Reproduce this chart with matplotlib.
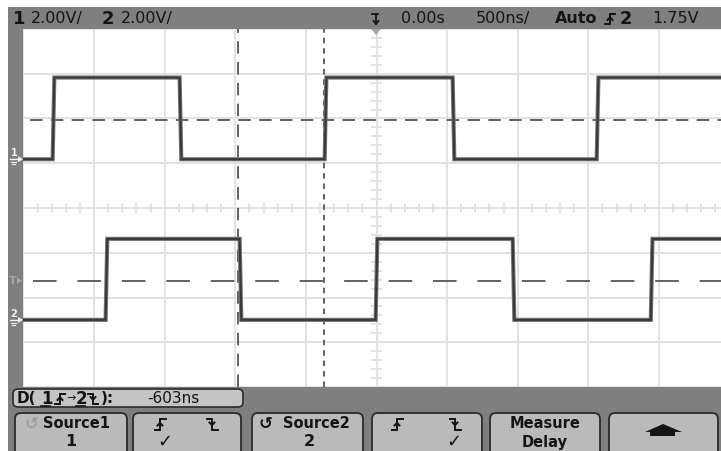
import matplotlib
matplotlib.use('Agg')
import matplotlib.pyplot as plt
import numpy as np
from matplotlib.patches import Rectangle, FancyBboxPatch, Polygon

plt.rcParams['font.family'] = ['DejaVu Sans']
plt.rcParams['lines.scale_dashes'] = False

# scope settings: 500 ns/div (10 div), 2 V/div (8 div)
time_per_div = 0.5      # us
volts_per_div = 2.0

# edge times in us (first edge of each is rising)
ch1_edges = [-2.287, -1.388, -0.361, 0.545, 1.565]
ch2_edges = [-1.912, -0.963, 0.0, 0.970, 1.948]
ch1_levels = (0.0, 3.65)    # V low / high
ch2_levels = (0.0, 3.62)
ch1_offset = 1.09           # div, ground marker position
ch2_offset = -2.50
threshold = 1.75            # V, both channels
cursor_a = -0.984           # us, ch2 falling edge
cursor_b = -0.375           # us, ch1 rising edge
delay_text = '-603ns'

W, H = 721, 451
GRAY = '#7f7f7f'
INK = '#141414'


def trace(edges, levels, offset, rise=0.012):
    lo, hi = levels
    t = [-2.6]
    v = [lo]
    cur = lo
    for e in edges:
        new = hi if cur == lo else lo
        t += [e - rise / 2, e + rise / 2]
        v += [cur, new]
        cur = new
    t.append(2.8)
    v.append(cur)
    return np.array(t), np.array(v) / volts_per_div + offset


fig = plt.figure(figsize=(W / 100, H / 100), dpi=100)
fig.patch.set_facecolor('white')

# graticule (extends a little past the right edge, like the screenshot)
gx0, gx1, gy0, gy1 = 23.4, 729.6, 29, 387
ax = fig.add_axes([gx0 / W, 1 - gy1 / H, (gx1 - gx0) / W, (gy1 - gy0) / H])
ax.set_xlim(-5 * time_per_div, 5 * time_per_div)
ax.set_ylim(-4, 4)
ax.set_facecolor('white')
for s in ax.spines.values():
    s.set_visible(False)
ax.set_xticks([])
ax.set_yticks([])

gc = '#e2e2e2'
for i in range(-5, 6):
    ax.axvline(i * time_per_div, color=gc, lw=1.4, zorder=1)
for j in range(-4, 5):
    ax.axhline(j, color=gc, lw=1.4, zorder=1)
# minor ticks on the centre cross
dx = time_per_div / 5
for k in range(-25, 26):
    ax.plot([k * dx, k * dx], [-0.09, 0.09], color=gc, lw=1.4, zorder=1)
for k in range(-20, 21):
    ax.plot([-0.03, 0.03], [k * 0.2, k * 0.2], color=gc, lw=1.4, zorder=1)

# threshold lines
l1, = ax.plot([-2.45, 2.6], [threshold / volts_per_div + ch1_offset] * 2,
              color='#555555', lw=1.3, zorder=2)
l1.set_dashes([9, 6])
l2, = ax.plot([-2.43, 2.6], [threshold / volts_per_div + ch2_offset] * 2,
              color='#555555', lw=1.3, zorder=2)
l2.set_dashes([17, 15])

# cursors
c1 = ax.axvline(cursor_a, color='#555555', lw=1.3, zorder=2)
c1.set_dashes([9, 6])
c2 = ax.axvline(cursor_b, color='#555555', lw=1.3, zorder=2)
c2.set_dashes([4, 3.5])

# waveforms
for edges, levels, off in [(ch1_edges, ch1_levels, ch1_offset),
                           (ch2_edges, ch2_levels, ch2_offset)]:
    t, y = trace(edges, levels, off)
    ax.plot(t, y, color='#767676', lw=3.0, zorder=3, solid_joinstyle='miter')
    ax.plot(t, y, color='#383838', lw=1.5, zorder=4, solid_joinstyle='miter')

# overlay in pixel coordinates for the scope frame
ov = fig.add_axes([0, 0, 1, 1])
ov.set_zorder(10)
ov.set_xlim(0, W)
ov.set_ylim(H, 0)
ov.axis('off')
ov.patch.set_alpha(0)

ov.add_patch(Rectangle((8, 7), W, 22, color=GRAY, lw=0, zorder=1))
ov.add_patch(Rectangle((8, 7), 15.4, H, color=GRAY, lw=0, zorder=1))
ov.add_patch(Rectangle((8, gy1), W, H, color=GRAY, lw=0, zorder=1))


def edge_glyph(x, y, rising, s=5, color=INK, lw=1.4):
    if rising:
        xs, ys = [x - s, x, x, x + s], [y + s, y + s, y - s, y - s]
        ov.plot([x - 2.5, x, x + 2.5], [y + 1.5, y - 1.2, y + 1.5], color=color, lw=lw, zorder=3)
    else:
        xs, ys = [x - s, x, x, x + s], [y - s, y - s, y + s, y + s]
        ov.plot([x - 2.5, x, x + 2.5], [y - 1.5, y + 1.2, y - 1.5], color=color, lw=lw, zorder=3)
    ov.plot(xs, ys, color=color, lw=lw, solid_joinstyle='miter', zorder=3)


# top status bar
ty = 18.5
fs = 11.5
ov.text(13, ty, '1', fontsize=13, fontweight='bold', color=INK, va='center')
ov.text(31, ty, '2.00V/', fontsize=fs, color=INK, va='center')
ov.text(102, ty, '2', fontsize=13, fontweight='bold', color=INK, va='center')
ov.text(121, ty, '2.00V/', fontsize=fs, color=INK, va='center')
ov.plot([372, 378], [14, 14], color=INK, lw=1.3)
ov.plot([376, 376], [14, 24], color=INK, lw=1.3)
ov.plot([373.5, 376, 378.5], [21, 24, 21], color=INK, lw=1.3)
ov.add_patch(Polygon([[371, 29], [381, 29], [376, 35]], color='#a8a8a8', lw=0))
ov.text(401, ty, '0.00s', fontsize=fs, color=INK, va='center')
ov.text(476, ty, '500ns/', fontsize=fs, color=INK, va='center')
ov.text(555, ty, 'Auto', fontsize=fs, fontweight='bold', color=INK, va='center')
edge_glyph(610, ty, True)
ov.text(620, ty, '2', fontsize=13, fontweight='bold', color=INK, va='center')
ov.text(652, ty, '1.75V', fontsize=fs, color=INK, va='center')


# channel ground markers and trigger level marker on the left strip
def marker(yc, label, color):
    ov.text(14, yc - 6, label, fontsize=7, fontweight='bold', color=color,
            ha='center', va='center')
    ov.plot([10, 18], [yc, yc], color=color, lw=1)
    ov.add_patch(Polygon([[18, yc - 3], [23, yc], [18, yc + 3]], color=color, lw=0))
    ov.plot([11, 16], [yc + 3, yc + 3], color=color, lw=0.8)
    ov.plot([12, 15], [yc + 5, yc + 5], color=color, lw=0.8)


def to_px(div):
    return gy0 + (4 - div) * (gy1 - gy0) / 8


marker(to_px(ch1_offset), '1', '#f0f0f0')
marker(to_px(ch2_offset), '2', '#f0f0f0')
yt = to_px(threshold / volts_per_div + ch2_offset)
ov.text(13, yt, 'T', fontsize=8, fontweight='bold', color='#a6a6a6', ha='center', va='center')
ov.add_patch(Polygon([[17, yt - 3], [22, yt], [17, yt + 3]], color='#a6a6a6', lw=0))

# measurement readout
ov.add_patch(FancyBboxPatch((13, 389), 230, 18, boxstyle='round,pad=0,rounding_size=5',
                            fc='#c4c4c4', ec='#2a2a2a', lw=1.2, zorder=2))
my = 398.5
ov.text(17, my, 'D(', fontsize=11, fontweight='bold', color=INK, va='center', zorder=3)
ov.text(41, my, '1', fontsize=12, fontweight='bold', color=INK, va='center', zorder=3)
ov.plot([41, 50], [406, 406], color=INK, lw=1.2, zorder=3)
edge_glyph(60, my, True)
ov.text(71, my, '\u2192', fontsize=8, color=INK, ha='center', va='center', zorder=3)
ov.text(76, my, '2', fontsize=12, fontweight='bold', color=INK, va='center', zorder=3)
ov.plot([76, 85], [406, 406], color=INK, lw=1.2, zorder=3)
edge_glyph(93, my, False)
ov.text(101, my, '):', fontsize=11, fontweight='bold', color=INK, va='center', zorder=3)
ov.text(147, my, delay_text, fontsize=11, color=INK, va='center', zorder=3)

# softkeys
keys = [(15, 127), (133, 241), (252, 363), (372, 482), (490, 600), (609, 718)]
for x0, x1 in keys:
    ov.add_patch(FancyBboxPatch((x0, 413), x1 - x0, 48, boxstyle='round,pad=0,rounding_size=6',
                                fc='#bababa', ec='#2a2a2a', lw=1.3, zorder=2))
r1, r2 = 424, 442
ov.text(31, r1, '\u21ba', fontsize=12, color='#9a9a9a', ha='center', va='center', zorder=3)
ov.text(77, r1, 'Source1', fontsize=10.5, fontweight='bold', color=INK, ha='center', va='center', zorder=3)
ov.text(71, r2, '1', fontsize=11.5, fontweight='bold', color=INK, ha='center', va='center', zorder=3)
edge_glyph(160, r1, True, s=5.5)
edge_glyph(212, r1, False, s=5.5)
ov.text(165, r2, '\u2713', fontsize=13, color=INK, ha='center', va='center', zorder=3)
ov.text(266, r1, '\u21ba', fontsize=12, fontweight='bold', color=INK, ha='center', va='center', zorder=3)
ov.text(316, r1, 'Source2', fontsize=10.5, fontweight='bold', color=INK, ha='center', va='center', zorder=3)
ov.text(309, r2, '2', fontsize=11.5, fontweight='bold', color=INK, ha='center', va='center', zorder=3)
edge_glyph(397, r1, True, s=5.5)
edge_glyph(455, r1, False, s=5.5)
ov.text(454, r2, '\u2713', fontsize=13, color=INK, ha='center', va='center', zorder=3)
ov.text(545, r1, 'Measure', fontsize=10.5, fontweight='bold', color=INK, ha='center', va='center', zorder=3)
ov.text(545, r2, 'Delay', fontsize=10.5, fontweight='bold', color=INK, ha='center', va='center', zorder=3)
ov.add_patch(Polygon([[645, 432], [663, 424], [682, 432]], color=INK, lw=0, zorder=3))
ov.add_patch(Rectangle((650, 432), 25, 4, color=INK, lw=0, zorder=3))

fig.savefig('out.png', dpi=100)
